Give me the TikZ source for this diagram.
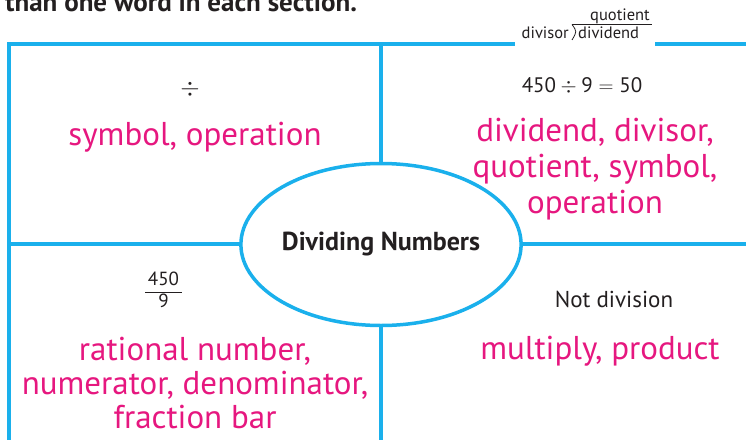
\documentclass[tikz,border=0pt]{standalone}
\usepackage{fontspec}
\setmainfont{PT Sans}
\usetikzlibrary{shapes.geometric}
\definecolor{frameblue}{HTML}{1AB0EC}
\definecolor{answer}{HTML}{E6177F}
\definecolor{ink}{HTML}{231F20}
\tikzset{
  frame/.style={draw=frameblue, line width=3.5pt},
  answertext/.style={text=answer, font=\fontsize{33}{36}\selectfont, align=center, inner sep=0pt},
  prompttext/.style={text=ink, font=\fontsize{23}{26}\selectfont, inner sep=0pt},
  labeltext/.style={text=ink, font=\fontsize{16.5}{20}\selectfont, inner sep=0pt}
}
\begin{document}
\begin{tikzpicture}[x=1pt,y=-1pt]
\useasboundingbox (0,0) rectangle (746,439);
\clip (0,0) rectangle (746,439);
% title (cut off)
\node[anchor=base west, inner sep=0pt, text=ink, font=\bfseries\fontsize{27}{30}\selectfont] (title) at (5,11) {than one word in each section.};
% frame
\draw[frame] (9,460) -- (9,44) -- (760,44);
\draw[frame] (381,44) -- (381,460);
\draw[frame] (9,244) -- (760,244);
% centre oval
\node[ellipse, draw=frameblue, line width=3.5pt, fill=white, minimum width=272pt, minimum height=162pt, inner sep=0pt, text=ink, font=\bfseries\fontsize{26}{30}\selectfont] (centre) at (381,244.5) {Dividing Numbers};
% long division label
\fill[white] (515,30) rectangle (655,50);
\node[labeltext, anchor=base east] (divisor) at (569,38) {divisor};
\node[labeltext, anchor=base west] (dividend) at (578,38) {dividend};
\node[labeltext, anchor=base east] (quotient) at (650,20) {quotient};
\draw[ink, line width=0.8pt] (572,24.5) .. controls (577,31.5) .. (572,40);
\draw[ink, line width=0.8pt] (572,24.5) -- (652,24.5);
% top-left
\node[prompttext] (sym) at (190,89) {${}\div{}$};
\node[answertext] (a1) at (195,137) {symbol, operation};
% top-right
\node[prompttext, font=\fontsize{21}{24}\selectfont] (ex) at (582,86) {450${}\div{}$9${}={}$50};
\node[answertext] (a2) at (595,169) {dividend, divisor,\\quotient, symbol,\\operation};
% bottom-left
\node[prompttext, font=\fontsize{19}{20}\selectfont, anchor=base] (num) at (163.5,285) {450};
\node[prompttext, font=\fontsize{19}{20}\selectfont, anchor=base] (den) at (163.5,307) {9};
\draw[ink, line width=1pt] (145,292) -- (182,292);
\node[answertext, font=\fontsize{33}{34}\selectfont] (a3) at (195,383) {rational number,\\numerator, denominator,\\fraction bar};
% bottom-right
\node[prompttext] (nd) at (614,299) {Not division};
\node[answertext] (a4) at (600,351) {multiply, product};
\end{tikzpicture}
\end{document}
